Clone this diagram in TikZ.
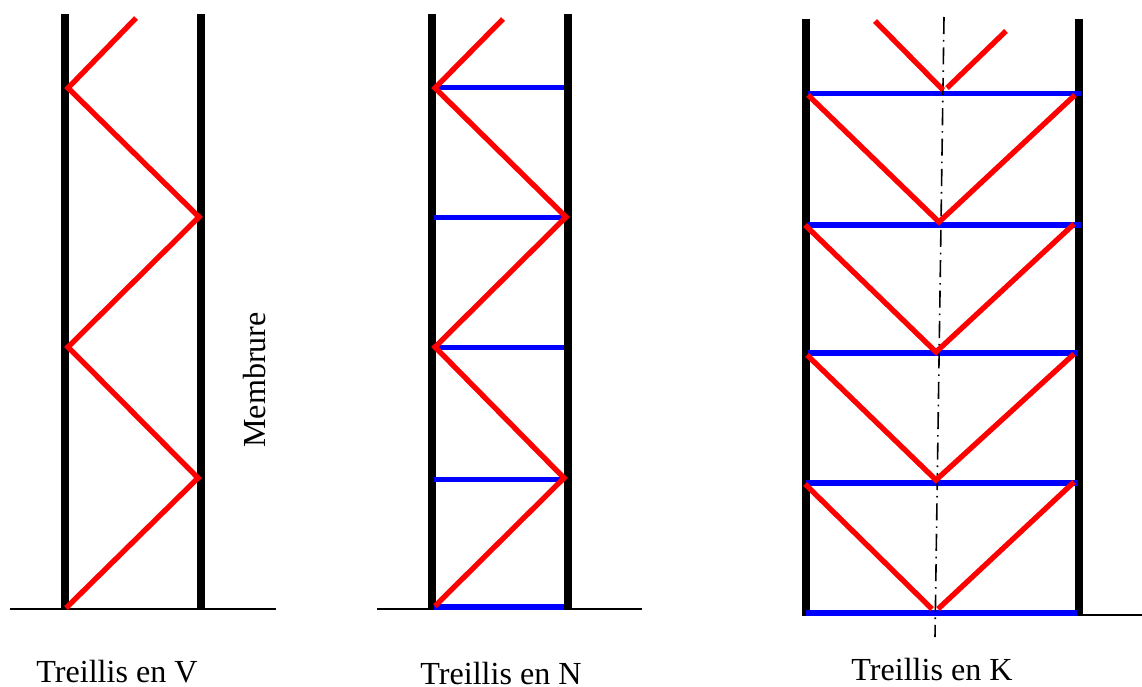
\documentclass[tikz,border=0pt]{standalone}
\usepackage{fontspec}
\setmainfont{Liberation Serif}
\tikzset{
  post/.style={draw=black,line width=6pt},
  ground/.style={draw=black,line width=1.4pt},
  diag/.style={draw=red,line width=4pt},
  tie/.style={draw=blue,line width=4.2pt},
  axisline/.style={draw=black,line width=1.2pt,dash pattern=on 12.8pt off 4.4pt on 1.2pt off 4.4pt},
  caption/.style={font=\fontsize{24.1pt}{26pt}\selectfont,inner sep=0pt,text=black}
}
\begin{document}
\begin{tikzpicture}[x=0.75pt,y=-0.75pt]
\useasboundingbox (0,0) rectangle (1142,686);
% Treillis en V
\draw[ground] (10,609) coordinate (g1a) -- (276,609) coordinate (g1b);
\draw[post] (65,14) -- (65,610);
\draw[post] (201,14) -- (201,610);
\draw[diag] (136,18) -- (68,88) -- (199,217) -- (68,347) -- (198,478) -- (66,608);
% Treillis en N
\draw[ground] (377,609) coordinate (g2a) -- (642,609) coordinate (g2b);
\draw[post] (432,14) -- (432,610);
\draw[post] (568,14) -- (568,610);
\foreach \yy in {87.5,217.5,347.5,479.5,607}{\draw[tie] (434,\yy) -- (564,\yy);}
\draw[diag] (503,19) -- (435,88) -- (566,217) -- (435,347) -- (564,478) -- (435,606);
% Treillis en K
\draw[ground] (1079,615) coordinate (g3a) -- (1142,615) coordinate (g3b);
\draw[post] (805.5,19) -- (805.5,616);
\draw[post] (1079,19) -- (1079,616);
\draw[tie] (808,93.5) -- (1081,93.5);
\draw[tie] (808,225) -- (1081,225);
\draw[tie] (808,353) -- (1078,353);
\draw[tie] (806,483) -- (1078,483);
\draw[tie] (806,613) -- (1077,613);
\draw[axisline] (944,17) coordinate (ax1) -- (935,637) coordinate (ax2);
\draw[diag] (875,21) -- (943,90);
\draw[diag] (947,88) -- (1006,31);
\draw[diag] (808,95) -- (939,222) -- (1075,95);
\draw[diag] (805,225) -- (936,352) -- (1074,224);
\draw[diag] (807,355) -- (936,480) -- (1074,354);
\draw[diag] (805,484) -- (932,609);
\draw[diag] (938,609) -- (1074,482);
% Labels
\node[caption] (tv) at (117,671.5) {Treillis en V};
\node[caption] (tn) at (501,673.5) {Treillis en N};
\node[caption] (tk) at (932,669) {Treillis en K};
\node[caption,rotate=90] (mb) at (255,380) {Membrure};
\end{tikzpicture}
\end{document}
